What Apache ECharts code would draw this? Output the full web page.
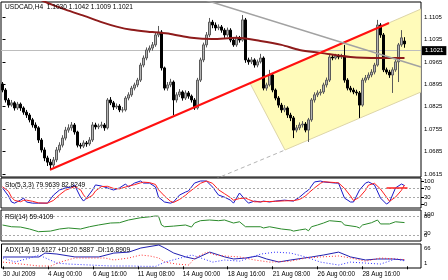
<!DOCTYPE html>
<html><head><meta charset="utf-8">
<script src="https://cdn.jsdelivr.net/npm/echarts@6/dist/echarts.min.js"></script>
<style>html,body{margin:0;padding:0;background:#fff}#c{width:448px;height:280px}</style>
</head><body><div id="c"></div>
<script>
const FONT = 'Liberation Sans';
const symbolTitle = 'USDCAD,H4  1.1030 1.1042 1.1009 1.1021';

// H4 bars (open, high, low, close)
const opens = [
1.0896,1.0877,1.0846,1.0830,1.0837,1.0821,1.0833,1.0821,1.0808,1.0799,
1.0784,1.0768,1.0759,1.0721,1.0690,1.0665,1.0652,1.0643,1.0659,1.0690,
1.0705,1.0727,1.0752,1.0759,1.0768,1.0746,1.0705,1.0702,1.0712,1.0709,
1.0721,1.0768,1.0762,1.0765,1.0768,1.0759,1.0846,1.0837,1.0824,1.0827,
1.0815,1.0815,1.0852,1.0862,1.0883,1.0893,1.0908,1.0955,1.0977,1.1002,
1.1008,1.1018,1.1049,1.1058,1.0946,1.0883,1.0893,1.0902,1.0846,1.0862,
1.0871,1.0852,1.0868,1.0858,1.0846,1.0821,1.0908,1.0971,1.1018,1.1049,
1.1089,1.1080,1.1071,1.1074,1.1064,1.1049,1.1064,1.1033,1.1018,1.1040,
1.1033,1.1096,1.0971,1.0965,1.0971,1.0955,1.0965,1.0977,1.0883,1.0893,
1.0924,1.0877,1.0852,1.0830,1.0815,1.0821,1.0799,1.0790,1.0752,1.0759,
1.0768,1.0771,1.0752,1.0784,1.0846,1.0862,1.0868,1.0871,1.0893,1.0908,
1.0980,1.0977,1.0983,1.0980,1.0983,1.0908,1.0883,1.0877,1.0871,1.0868,
1.0830,1.0908,1.0915,1.0924,1.0933,1.0955,1.1080,1.1049,1.0940,1.0933,
1.0924,1.0940,1.0965,1.1018,1.1030];
const highs = [
1.0902,1.0883,1.0852,1.0846,1.0842,1.0840,1.0838,1.0826,1.0815,1.0805,
1.0790,1.0776,1.0764,1.0727,1.0698,1.0672,1.0662,1.0668,1.0699,1.0714,
1.0736,1.0762,1.0770,1.0777,1.0774,1.0750,1.0712,1.0720,1.0718,1.0730,
1.0777,1.0775,1.0772,1.0778,1.0774,1.0852,1.0855,1.0843,1.0835,1.0833,
1.0824,1.0858,1.0870,1.0890,1.0900,1.0915,1.0962,1.0985,1.1010,1.1016,
1.1027,1.1056,1.1077,1.1064,1.0950,1.0902,1.0912,1.0907,1.0870,1.0880,
1.0876,1.0876,1.0874,1.0863,1.0852,1.0915,1.0978,1.1025,1.1058,1.1102,
1.1096,1.1088,1.1082,1.1080,1.1070,1.1072,1.1070,1.1040,1.1048,1.1046,
1.1111,1.1102,1.0978,1.0980,1.0976,1.0972,1.0990,1.0982,1.0900,1.0940,
1.0930,1.0882,1.0858,1.0837,1.0830,1.0826,1.0806,1.0796,1.0768,1.0776,
1.0780,1.0777,1.0790,1.0852,1.0870,1.0876,1.0880,1.0900,1.0916,1.0987,
1.0988,1.0990,1.0989,1.0990,1.1018,1.0914,1.0890,1.0884,1.0878,1.0874,
1.0915,1.0924,1.0932,1.0942,1.0962,1.1096,1.1086,1.1055,1.0947,1.0940,
1.0948,1.0972,1.1024,1.1064,1.1042];
const lows = [
1.0870,1.0838,1.0822,1.0825,1.0813,1.0815,1.0812,1.0800,1.0790,1.0776,
1.0760,1.0750,1.0712,1.0682,1.0655,1.0640,1.0627,1.0636,1.0652,1.0682,
1.0698,1.0720,1.0744,1.0750,1.0738,1.0698,1.0694,1.0696,1.0700,1.0703,
1.0715,1.0754,1.0755,1.0758,1.0750,1.0754,1.0830,1.0815,1.0818,1.0808,
1.0807,1.0810,1.0845,1.0856,1.0876,1.0886,1.0902,1.0948,1.0970,1.0994,
1.1000,1.1012,1.1042,1.0938,1.0876,1.0875,1.0886,1.0799,1.0838,1.0855,
1.0844,1.0846,1.0850,1.0838,1.0815,1.0816,1.0902,1.0964,1.1010,1.1042,
1.1070,1.1062,1.1064,1.1056,1.1040,1.1043,1.1026,1.1012,1.1012,1.1025,
1.1028,1.0962,1.0956,1.0958,1.0947,1.0948,1.0960,1.0876,1.0875,1.0888,
1.0870,1.0845,1.0822,1.0806,1.0808,1.0790,1.0780,1.0727,1.0745,1.0752,
1.0760,1.0745,1.0715,1.0778,1.0838,1.0855,1.0860,1.0865,1.0885,1.0902,
1.0970,1.0972,1.0973,1.0974,1.0900,1.0876,1.0870,1.0864,1.0860,1.0790,
1.0825,1.0900,1.0908,1.0917,1.0926,1.0950,1.1040,1.0933,1.0926,1.0915,
1.0868,1.0934,1.0902,1.1012,1.1009];
const closes = [
1.0877,1.0846,1.0830,1.0837,1.0821,1.0833,1.0821,1.0808,1.0799,1.0784,
1.0768,1.0759,1.0721,1.0690,1.0665,1.0652,1.0643,1.0659,1.0690,1.0705,
1.0727,1.0752,1.0759,1.0768,1.0746,1.0705,1.0702,1.0712,1.0709,1.0721,
1.0768,1.0762,1.0765,1.0768,1.0759,1.0846,1.0837,1.0824,1.0827,1.0815,
1.0815,1.0852,1.0862,1.0883,1.0893,1.0908,1.0955,1.0977,1.1002,1.1008,
1.1018,1.1049,1.1058,1.0946,1.0883,1.0893,1.0902,1.0846,1.0862,1.0871,
1.0852,1.0868,1.0858,1.0846,1.0821,1.0908,1.0971,1.1018,1.1049,1.1089,
1.1080,1.1071,1.1074,1.1064,1.1049,1.1064,1.1033,1.1018,1.1040,1.1033,
1.1096,1.0971,1.0965,1.0971,1.0955,1.0965,1.0977,1.0883,1.0893,1.0924,
1.0877,1.0852,1.0830,1.0815,1.0821,1.0799,1.0790,1.0752,1.0759,1.0768,
1.0771,1.0752,1.0784,1.0846,1.0862,1.0868,1.0871,1.0893,1.0908,1.0980,
1.0977,1.0983,1.0980,1.0983,1.0908,1.0883,1.0877,1.0871,1.0868,1.0830,
1.0908,1.0915,1.0924,1.0933,1.0955,1.1080,1.1049,1.0940,1.0933,1.0924,
1.0940,1.0965,1.1018,1.1040,1.1021];

// moving average [bar, price]
const maPts = [[8,1.1180],[14,1.1153],[21,1.1128],[28,1.1106],[33,1.1089],[38,1.1075],[43,1.1065],
 [50,1.1058],[56,1.1052],[63,1.1040],[70,1.1036],[78,1.1040],[86,1.1030],[93,1.1018],[99,1.1002],
 [106,1.0993],[116,1.0980],[126,1.0977],[134,1.0977]];

// drawn objects [bar, price]
const trendRed = [[15.83,1.06281],[128.83,1.10863]];
const channelPts = [[82.5,1.08984],[139.5,1.1130],[139.5,1.08709],[94.17,1.06899]];
const channelDash = [[70.83,1.0599],[94.17,1.06899]];
const greyLine = [[67.5,1.11581],[139.5,1.09489]];

// Stochastic (5,3,3)
const stoK = [[0,70],[2,35],[3,9],[4,4],[6,17],[7,26],[8,9],[10,4],[12,4],[15,4],[17,39],[19,61],[21,70],[23,74],[24,83],[26,30],[27,13],[28,26],[30,61],[31,83],[33,78],[35,70],[37,61],[39,70],[41,87],[42,74],[44,91],[46,100],[47,91],[49,91],[51,74],[52,30],[54,9],[56,4],[57,9],[59,39],[61,52],[62,57],[64,91],[66,100],[68,100],[70,74],[72,39],[74,30],[76,17],[77,4],[79,48],[81,17],[82,4],[84,13],[86,9],[87,13],[89,9],[91,13],[94,17],[97,13],[99,30],[101,52],[102,61],[104,96],[106,100],[107,96],[111,91],[112,91],[114,26],[116,9],[117,9],[119,61],[121,91],[122,96],[124,83],[126,26],[128,0],[129,9],[131,70],[133,87],[134,79.96]];
const stoD = [[0,75],[2,55],[3,30],[4,16],[6,10],[7,16],[8,17],[10,12],[12,5],[15,4],[17,16],[19,40],[21,60],[23,70],[24,76],[26,62],[27,40],[28,23],[30,38],[31,57],[33,76],[35,77],[37,68],[39,66],[41,74],[42,78],[44,84],[46,92],[47,95],[49,93],[51,85],[52,62],[54,35],[56,12],[57,7],[59,20],[61,38],[62,50],[64,70],[66,90],[68,100],[70,90],[72,62],[74,45],[76,28],[77,17],[79,24],[81,26],[82,20],[84,10],[86,10],[87,11],[89,11],[91,12],[94,14],[97,15],[99,20],[101,35],[102,48],[104,70],[106,90],[107,97],[111,93],[112,92],[114,68],[116,35],[117,15],[119,30],[121,60],[122,82],[124,90],[126,65],[128,30],[129,12],[131,30],[133,60],[134,82.82]];
const stoLabels = [0,30,70,100];

// RSI(14)
const rsi = [[0,51.6],[3,46],[6,45],[9,38.7],[12,30],[16,32],[19,38.7],[22,42],[26,38.7],[29,46],[32,51.6],[36,58],[39,59],[42,67.7],[46,75],[49,78],[51,80.6],[52,80],[53,51.6],[54,46],[57,48],[61,51.6],[63,45],[64,58],[66,65.5],[69,67.7],[72,65.5],[74,67.7],[77,58],[79,62],[81,46],[86,46],[87,42],[89,46],[93,38.7],[96,35.5],[97,32],[99,35.5],[101,38.7],[102,33],[103,46],[105,51.6],[107,58],[109,65.5],[113,62],[114,51.6],[118,46],[119,42],[120,51.6],[123,59],[125,67.7],[126,55],[129,55],[131,62],[134,59.41]];

// ADX(14)
const adx = [[0,28.9],[6,28.9],[12,28.9],[14,41],[18,38],[24,29],[32,29],[37,41],[42,44],[46,56.7],[52,66],[54,56.7],[57,41],[61,29],[64,22.7],[69,44],[74,29],[77,22.7],[81,25.8],[85,32],[88,22.7],[92,13.4],[96,19.6],[103,29],[107,35],[112,44],[116,29],[121,19.6],[125,22.7],[130,22.7],[134,19.61]];
const plusDI = [[0,13],[6,7],[12,1],[16,1],[19,13],[24,25.8],[29,25.8],[34,25.8],[37,19.6],[42,25.8],[46,35],[49,32],[52,25.8],[54,13],[58,7],[62,4],[64,25.8],[68,44],[71,35],[74,32],[79,29],[84,19.6],[89,13],[96,16],[101,25.8],[106,29],[112,32],[116,25.8],[121,16],[126,25.8],[131,22.7],[134,20.59]];
const minusDI = [[0,25.8],[4,13.4],[9,25.8],[12,35],[18,10],[22,7],[29,4],[36,1],[43,1],[47,0],[51,0],[54,13],[58,22.7],[63,35],[66,25.8],[70,13],[74,19.6],[79,16],[86,38],[91,44],[96,41],[101,29],[106,13],[112,4],[116,13],[121,10],[126,7],[131,22.7],[134,16.89]];

const priceTicks = [1.0615,1.0685,1.0755,1.0825,1.0895,1.0965,1.1035,1.1105];
const xLabels = ['30 Jul 2009','4 Aug 00:00','6 Aug 16:00','11 Aug 08:00','14 Aug 00:00','18 Aug 16:00','21 Aug 08:00','26 Aug 00:00','28 Aug 16:00'];
const labelStep = 15;
const barCount = 140;

const cats = Array.from({length: barCount}, (_, i) => String(i));
const ohlc = opens.map((o, i) => [o, closes[i], lows[i], highs[i]]);
const lastClose = closes[closes.length - 1];

const chart = echarts.init(document.getElementById('c'), null, {renderer: 'canvas', width: 448, height: 280});

const gridCommon = {left: 1, width: 420, show: true, borderColor: '#000', borderWidth: 1, backgroundColor: '#fff'};
const lblStyle = {fontSize: 6, fontFamily: FONT, color: '#000'};
const hiddenCat = (gi) => ({type: 'category', gridIndex: gi, data: cats, boundaryGap: true, axisLine: {show: false}, axisTick: {show: false}, axisLabel: {show: false}, splitLine: {show: false}});
const txt = (s, x, y, size) => ({type: 'text', x: x, y: y, silent: true, z: 100,
  style: {text: s, fill: '#000', font: (size || 6.6) + 'px "' + FONT + '"', verticalAlign: 'middle', align: 'left'}});
const lineS = (data, xi, yi, color, width, type, z) => ({type: 'line', xAxisIndex: xi, yAxisIndex: yi, data: data, symbol: 'none', silent: true, z: z || 3, clip: true,
  lineStyle: {color: color, width: width, type: type || 'solid'}});

const option = {
  animation: false,
  backgroundColor: '#fff',
  grid: [
    Object.assign({top: 2, height: 175}, gridCommon),
    Object.assign({top: 178, height: 30}, gridCommon),
    Object.assign({top: 210, height: 31}, gridCommon),
    Object.assign({top: 244, height: 24}, gridCommon)
  ],
  xAxis: [
    hiddenCat(0),
    {type: 'value', gridIndex: 0, min: -0.5, max: barCount - 0.5, show: false},
    hiddenCat(1),
    hiddenCat(2),
    {type: 'category', gridIndex: 3, data: cats, boundaryGap: true,
     axisLine: {show: false},
     axisTick: {show: true, interval: labelStep - 1, alignWithLabel: true, length: 3, lineStyle: {color: '#000'}},
     axisLabel: Object.assign({interval: labelStep - 1, align: 'left', margin: 3,
       formatter: (v, i) => xLabels[Math.round(i / labelStep)] || ''}, lblStyle, {fontSize: 6.3}),
     splitLine: {show: false}}
  ],
  yAxis: [
    {type: 'value', gridIndex: 0, position: 'right', min: 1.06056, max: 1.11518, scale: true,
     axisLine: {show: false}, splitLine: {show: false},
     axisTick: {show: true, customValues: priceTicks, length: 3, lineStyle: {color: '#000'}},
     axisLabel: Object.assign({customValues: priceTicks, margin: 3, formatter: v => v.toFixed(4)}, lblStyle)},
    {type: 'value', gridIndex: 1, position: 'right', min: -17, max: 113,
     axisLine: {show: false}, splitLine: {show: false},
     axisTick: {show: true, customValues: stoLabels, length: 3, lineStyle: {color: '#000'}},
     axisLabel: Object.assign({customValues: stoLabels, margin: 3}, lblStyle)},
    {type: 'value', gridIndex: 2, position: 'right', min: 0, max: 100,
     axisLine: {show: false}, splitLine: {show: false}, axisTick: {show: false}, axisLabel: {show: false}},
    {type: 'value', gridIndex: 3, position: 'right', min: -5.2, max: 69.1,
     axisLine: {show: false}, splitLine: {show: false}, axisTick: {show: false}, axisLabel: {show: false}}
  ],
  graphic: [
    txt(symbolTitle, 5, 7),
    txt('Sto(5,3,3) 79.9639 82.8249', 5, 185),
    txt('RSI(14) 59.4109', 5, 217),
    txt('ADX(14) 19.6127 +DI:20.5887 -DI:16.8909', 5, 250),
    txt('100', 424, 214.5, 6), txt('80', 424, 216.5, 6),
    txt('20', 424, 233.5, 6), txt('0', 424, 235.5, 6),
    txt('66', 424, 248, 6), txt('1', 424, 263.5, 6)
  ],
  series: [
    {type: 'custom', xAxisIndex: 1, yAxisIndex: 0, silent: true, z: 1, data: channelPts,
     renderItem: (params, api) => {
       if (params.dataIndex !== 0) return null;
       const cs = params.coordSys;
       return {type: 'polygon', shape: {points: channelPts.map(p => api.coord(p))},
         style: {fill: '#FFFBBA', stroke: '#DDD5A8', lineWidth: 1},
         clipPath: {type: 'rect', shape: {x: cs.x, y: cs.y, width: cs.width, height: cs.height}}};
     }},
    lineS(channelDash, 1, 0, '#B4B4B4', 1, [4, 3], 2),
    {type: 'candlestick', xAxisIndex: 0, yAxisIndex: 0, data: ohlc, barWidth: 2, z: 3, silent: true,
     itemStyle: {color: '#B4B4B4', color0: '#000', borderColor: '#5A5A5A', borderColor0: '#000', borderWidth: 1},
     markLine: {silent: true, symbol: ['none', 'none'], z: 2,
       data: [{yAxis: lastClose}],
       lineStyle: {color: '#BDBDBD', width: 1, type: 'solid'},
       label: {show: true, position: 'end', distance: 1, formatter: () => lastClose.toFixed(4),
         backgroundColor: '#000', color: '#fff', padding: [2, 3, 1, 3], fontSize: 6, fontFamily: FONT}}},
    Object.assign(lineS(maPts, 1, 0, '#8E1B1B', 2, 'solid', 4), {smooth: 0.3}),
    lineS(trendRed, 1, 0, '#FF1010', 2, 'solid', 5),
    lineS(greyLine, 1, 0, '#A2A2A2', 1.5, 'solid', 5),
    Object.assign(lineS(stoK, 2, 1, '#1818C8', 1), {
      markLine: {silent: true, symbol: ['none', 'none'], label: {show: false},
        lineStyle: {color: '#A8A8A8', type: [2, 2], width: 1},
        data: [{yAxis: 70}, {yAxis: 30}]}}),
    Object.assign(lineS(stoD, 2, 1, '#FF2020', 1), {
      markLine: {silent: true, symbol: ['none', 'none'], label: {show: false},
        lineStyle: {color: '#FF2020', type: 'solid', width: 1.5},
        data: [[{coord: [128, 72]}, {coord: [135, 72]}]]}}),
    Object.assign(lineS(rsi, 3, 2, '#2A8A2A', 1), {
      markLine: {silent: true, symbol: ['none', 'none'], label: {show: false},
        lineStyle: {color: '#A8A8A8', type: [2, 2], width: 1},
        data: [{yAxis: 80}, {yAxis: 20}]}}),
    lineS(adx, 4, 3, '#2020B0', 1),
    lineS(plusDI, 4, 3, '#FF3030', 1, [1, 2]),
    lineS(minusDI, 4, 3, '#3030FF', 1, [1, 2])
  ]
};
chart.setOption(option);
</script>
</body></html>
